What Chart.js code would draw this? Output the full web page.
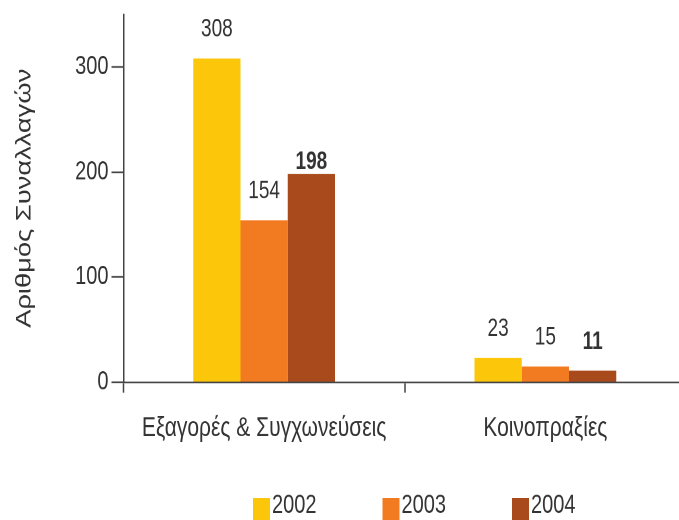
<!DOCTYPE html>
<html>
<head>
<meta charset="utf-8">
<script src="https://cdn.jsdelivr.net/npm/chart.js@4/dist/chart.umd.min.js"></script>
<style>
  html, body { margin: 0; padding: 0; background: #fff; }
  #wrap { position: relative; width: 679px; height: 520px; overflow: hidden; }
  /* the chart is laid out in a short box and stretched to tall, narrow type */
  #box { position: absolute; left: 0; top: 0; width: 686px; height: 400px;
         transform: scaleY(1.3); transform-origin: 0 0; }
</style>
</head>
<body>
<div id="wrap"><div id="box"><canvas id="chart"></canvas></div></div>
<script>
const categories = ["Εξαγορές & Συγχωνεύσεις", "Κοινοπραξίες"];
const years = ["2002", "2003", "2004"];
const values2002 = [308, 23];
const values2003 = [154, 15];
const values2004 = [198, 11];
const yTicks = [0, 100, 200, 300];

const colors = ["#FCC70A", "#F27A20", "#A94A1C"];
const font = "'Liberation Sans', Arial, sans-serif";
const textColor = "#333";

// numbers over each bar; the last year is written in bold
const barValues = {
  id: "barValues",
  afterDatasetsDraw(chart) {
    const ctx = chart.ctx;
    ctx.save();
    ctx.textAlign = "center";
    ctx.textBaseline = "middle";
    ctx.fillStyle = textColor;
    chart.data.datasets.forEach((ds, i) => {
      const meta = chart.getDatasetMeta(i);
      meta.data.forEach((bar, j) => {
        let lift = 22;
        if (i === 2 && j === 0) lift = 9;  // 198 sits close to its bar
        ctx.font = (i === 2 ? "bold " : "") + "19px " + font;
        ctx.fillText(String(ds.data[j]), bar.x, bar.y - lift);
      });
    });
    ctx.restore();
  }
};

// legend row under the axis: square swatch right against the year
const yearLegend = {
  id: "yearLegend",
  afterDraw(chart) {
    const ctx = chart.ctx;
    ctx.save();
    ctx.font = "20px " + font;
    ctx.textBaseline = "middle";
    ctx.textAlign = "left";
    chart.data.datasets.forEach((ds, i) => {
      const x = 253 + i * 129.5;
      ctx.fillStyle = ds.backgroundColor;
      ctx.fillRect(x, 383, 17, 17);
      ctx.fillStyle = textColor;
      ctx.fillText(ds.label, x + 19, 389);
    });
    ctx.restore();
  }
};

const seriesValues = [values2002, values2003, values2004];

new Chart(document.getElementById("chart").getContext("2d"), {
  type: "bar",
  data: {
    labels: categories,
    datasets: years.map((y, i) => ({
      label: y,
      data: seriesValues[i],
      backgroundColor: colors[i],
      borderWidth: 0,
      categoryPercentage: 0.504,
      barPercentage: 1.0
    }))
  },
  options: {
    responsive: true,
    maintainAspectRatio: false,
    animation: false,
    devicePixelRatio: 2,
    layout: { padding: { top: 11, left: 0, right: 0, bottom: 0 } },
    plugins: {
      legend: { display: false },
      tooltip: { enabled: false }
    },
    scales: {
      x: {
        grid: {
          drawOnChartArea: false,
          tickLength: 8,
          tickColor: "#444",
          tickWidth: 1.5
        },
        border: { color: "#444", width: 1.3 },
        ticks: {
          color: textColor,
          padding: 15,
          font: { family: font, size: 21 }
        },
        afterFit: (s) => {
          s.height = 106;
          s.paddingLeft = 0;
          s.paddingRight = 0;
        }
      },
      y: {
        min: 0,
        max: 350,
        afterBuildTicks: (s) => { s.ticks = yTicks.map(v => ({ value: v })); },
        grid: {
          drawOnChartArea: false,
          tickLength: 12,
          tickColor: "#444",
          tickWidth: 1.3
        },
        border: { color: "#444", width: 1.5 },
        ticks: {
          color: textColor,
          padding: 3,
          font: { family: font, size: 20 }
        },
        title: {
          display: true,
          text: "Αριθμός Συναλλαγών",
          color: textColor,
          font: { family: font, size: 21 },
          padding: { top: 12, bottom: 0 }
        },
        afterFit: (s) => {
          s.width = 123.5;
          s.paddingTop = 0;
          s.paddingBottom = 0;
        }
      }
    }
  },
  plugins: [barValues, yearLegend]
});
</script>
</body>
</html>
